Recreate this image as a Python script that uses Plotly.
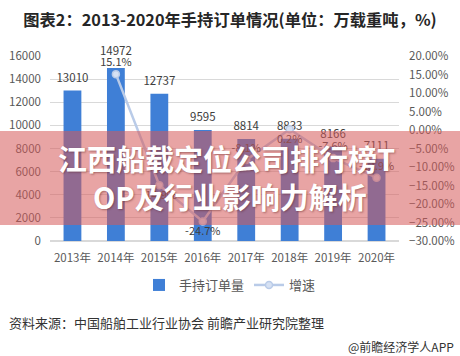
import plotly.graph_objects as go

# Order backlog (10k DWT) and year-on-year growth, 2013-2020
years = ["2013年", "2014年", "2015年", "2016年", "2017年", "2018年", "2019年", "2020年"]
backlog = [13010, 14972, 12737, 9595, 8814, 8833, 8166, 7111]
growth = [None, 0.151, -0.149, -0.247, -0.081, 0.002, -0.076, -0.129]
growth_labels = ["", "15.1%", "-14.9%", "-24.7%", "-8.1%", "0.2%", "-7.6%", "-12.9%"]
growth_label_pos = ["top center", "top center", "bottom center", "bottom center",
                    "top center", "bottom center", "top center", "top center"]
# gap between each bar top and its value label (marker diameter of the label carrier)
bar_label_gap = [8, 14, 8, 8, 8, 8, 8, 8]

W, H = 460, 356
L, R, T, B = 50, 61, 56, 115
plot_w = W - L - R
plot_h = H - T - B


def px_x(px):
    return (px - L) / plot_w


def px_y(py):
    return (H - B - py) / plot_h


CJK = "Noto Sans CJK SC"
BLUE = "#3f7fd6"
LINE = "#b9cbe8"

fig = go.Figure()

fig.add_trace(go.Bar(
    x=years, y=backlog, name="手持订单量",
    marker=dict(color=BLUE, line=dict(width=0)),
))

# value labels above the bars
fig.add_trace(go.Scatter(
    x=years, y=backlog, mode="markers+text", showlegend=False, hoverinfo="skip",
    marker=dict(size=bar_label_gap, opacity=0),
    text=[str(v) for v in backlog], textposition="top center",
    textfont=dict(family=CJK, size=11.5, color="#404040"),
    cliponaxis=False,
))

fig.add_trace(go.Scatter(
    x=years, y=growth, name="增速", yaxis="y2",
    mode="lines+markers+text",
    line=dict(color=LINE, width=2.5),
    marker=dict(color="#d6e1f3", size=7, line=dict(color=LINE, width=1.5)),
    text=growth_labels, textposition=growth_label_pos,
    textfont=dict(family=CJK, size=11, color="#404040"),
    cliponaxis=False,
))

# Translucent banner across the middle of the chart
fig.add_shape(type="rect", xref="paper", yref="paper",
              x0=px_x(0), x1=px_x(W), y0=px_y(225), y1=px_y(131),
              fillcolor="rgba(213,90,90,0.55)", line=dict(width=0), layer="above")

banner_font = dict(family=CJK, size=29, color="white", weight="bold",
                   shadow="1px 1px 2px rgba(90,30,30,0.45)")
fig.add_annotation(text="江西船载定位公司排行榜T", xref="paper", yref="paper",
                   x=px_x(226), y=px_y(158), showarrow=False, font=banner_font,
                   xanchor="center", yanchor="middle")
fig.add_annotation(text="OP及行业影响力解析", xref="paper", yref="paper",
                   x=px_x(230), y=px_y(196), showarrow=False, font=banner_font,
                   xanchor="center", yanchor="middle")

fig.add_annotation(text="资料来源：中国船舶工业行业协会 前瞻产业研究院整理",
                   xref="paper", yref="paper", x=px_x(7), y=px_y(322),
                   xanchor="left", yanchor="middle", showarrow=False,
                   font=dict(family=CJK, size=13, color="#333333"))
fig.add_annotation(text="@前瞻经济学人APP",
                   xref="paper", yref="paper", x=px_x(456), y=px_y(346),
                   xanchor="right", yanchor="middle", showarrow=False,
                   font=dict(family=CJK, size=12, color="#333333"))

fig.update_layout(
    width=W, height=H,
    margin=dict(l=L, r=R, t=T, b=B, autoexpand=False),
    paper_bgcolor="white", plot_bgcolor="white",
    bargap=0.59,
    title=dict(text="<b>图表2：2013-2020年手持订单情况(单位：万载重吨，%)</b>",
               xref="container", yref="container", x=0.5, y=1 - 20 / H,
               xanchor="center", yanchor="middle",
               font=dict(family=CJK, size=16.3, color="#262626")),
    xaxis=dict(type="category", showgrid=False, showline=False, ticks="",
               ticklabelstandoff=8, automargin=False,
               tickfont=dict(family=CJK, size=11.5, color="#595959")),
    yaxis=dict(range=[0, 16000], dtick=2000, tickformat="d",
               showgrid=True, gridcolor="#d9d9d9", automargin=False,
               gridwidth=1, zeroline=True, zerolinecolor="#d9d9d9", showline=False,
               ticks="", ticklabelstandoff=8,
               tickfont=dict(family=CJK, size=11.5, color="#595959")),
    yaxis2=dict(range=[-0.30, 0.20], dtick=0.05, tickformat=".2%", overlaying="y",
                side="right", showgrid=False, zeroline=False, showline=False,
                ticks="", ticklabelstandoff=9, automargin=False,
                tickfont=dict(family=CJK, size=11.5, color="#595959")),
    legend=dict(orientation="h", x=0.5, xanchor="center", xref="container",
                y=1 - 285 / H, yref="container", yanchor="middle",
                font=dict(family=CJK, size=13, color="#595959"),
                itemwidth=30, tracegroupgap=0),
    showlegend=True,
)

fig.write_html("out.html",
               post_script="document.body.style.margin='0';"
                           "document.body.style.overflow='hidden';")
